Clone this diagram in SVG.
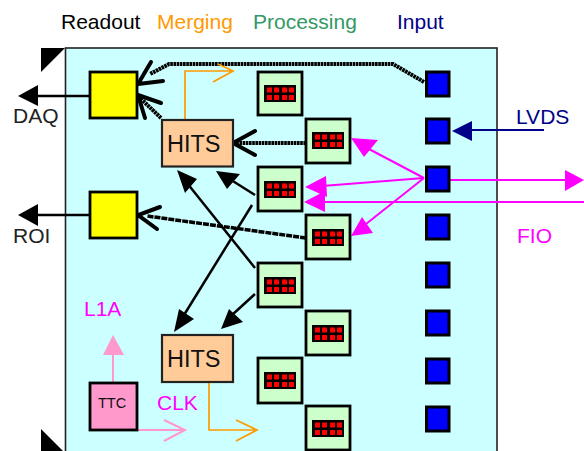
<svg xmlns="http://www.w3.org/2000/svg" width="584" height="451" viewBox="0 0 584 451">
<defs>
<style>
text{font-family:"Liberation Sans",Arial,sans-serif}
.h{font-size:21px}
.lbl{font-size:21px}
.y{fill:#ff0;stroke:#000;stroke-width:2.800}
.b{fill:#00f;stroke:#000;stroke-width:3}
.hits{fill:#fc9;stroke:#222;stroke-width:2.200}
.g{fill:#cfc;stroke:#000;stroke-width:2.800}
.k{fill:none;stroke:#000;stroke-width:1.800}
.kt{fill:none;stroke:#000;stroke-width:2.500}
.m{fill:none;stroke:#f0f;stroke-width:2}
.o{fill:none;stroke:#f90;stroke-width:1.700}
.p{fill:none;stroke:#f9c;stroke-width:2}
.d{fill:none;stroke:#000;stroke-width:4;stroke-dasharray:2.600 0.600}
.open{fill:none;stroke:#000;stroke-width:4;stroke-linecap:round}
</style>
<g id="chip">
<rect x="0" y="0" width="32" height="17" fill="#000"/>
<g fill="#f00"><rect x="3" y="2.500" width="5" height="5"/><rect x="10" y="2.500" width="5" height="5"/><rect x="18" y="2.500" width="5" height="5"/><rect x="25" y="2.500" width="5" height="5"/><rect x="3" y="10" width="5" height="5"/><rect x="10" y="10" width="5" height="5"/><rect x="18" y="10" width="5" height="5"/><rect x="25" y="10" width="5" height="5"/></g>
</g>
</defs>
<rect width="584" height="451" fill="#fff"/>
<rect id="board" x="65.500" y="48" width="431.500" height="410" fill="#cff" stroke="#222" stroke-width="1.600"/>
<path d="M41 48H65L41 72Z" fill="#000"/>
<path d="M41 429L65 453H41Z" fill="#000"/>
<g id="headers">
<text x="61" y="29" class="h" fill="#000">Readout</text>
<text x="157" y="29" class="h" fill="#f90">Merging</text>
<text x="253" y="29" class="h" fill="#396">Processing</text>
<text x="397" y="29" class="h" fill="#008">Input</text>
</g>
<g id="connectors">
<path class="d" d="M424 82L393 64H169L150 74"/>
<path class="open" d="M151 62L138 84L163 81"/>
<path class="d" d="M161 118L138 96"/>
<path class="open" d="M145 118L138 95L161 103"/>
<path class="d" d="M306 143H236"/>
<path class="open" d="M255 131L233 143L255 155"/>
<path class="kt" d="M255 195L228 178"/><path d="M216 171L240 174L227 189Z" fill="#000"/>
<path class="kt" d="M255 268L187 183"/><path d="M177 170L197 179L185 193Z" fill="#000"/>
<path class="kt" d="M252 205L184 315"/><path d="M174 332L179 309L194 319Z" fill="#000"/>
<path class="kt" d="M255 294L232 315"/><path d="M221 329L229 309L243 322Z" fill="#000"/>
<path d="M306 238L147 216" fill="none" stroke="#000" stroke-width="3.500" stroke-dasharray="6 1"/>
<path class="open" d="M160 207L138 215L157 229"/>
<path class="kt" d="M90 96H36"/><path d="M18 96L38 85V106Z" fill="#000"/>
<path class="kt" d="M90 215H36"/><path d="M18 215L38 204V226Z" fill="#000"/>
<path class="m" d="M424 178L367 148"/><path d="M351 138L378 140L364 157Z" fill="#f0f"/>
<path class="m" d="M424 178L322 186"/><path d="M305 187L326 176L327 197Z" fill="#f0f"/>
<path class="m" d="M424 178L366 224"/><path d="M351 236L362 217L373 233Z" fill="#f0f"/>
<path class="m" d="M449 180H566"/><path d="M584 180L565 170V191Z" fill="#f0f"/>
<path class="m" d="M584 202H323"/><path d="M304 202L325 191V212Z" fill="#f0f"/>
<path d="M544 130H470" fill="none" stroke="#008" stroke-width="2"/><path d="M452 131L472 121V141Z" fill="#008"/>
<path class="o" d="M185 119V71H232M218 64L233 71L213 82"/>
<path class="o" d="M209 382V430H257M236 420L257 430L236 441"/>
<path class="p" d="M113 383V350"/><path d="M113 335L103 355H124Z" fill="#f9c"/>
<path class="p" d="M137 430H185M164 420L185 430L164 441"/>
</g>
<g id="readout-daq"><rect class="y" x="90" y="72" width="47" height="46"/></g>
<g id="readout-roi"><rect class="y" x="90" y="192" width="47" height="46"/></g>
<g id="hits-1"><rect class="hits" x="162" y="120" width="71" height="46.500"/><text x="167" y="152" font-size="23.500" fill="#111">HITS</text></g>
<g id="hits-2"><rect class="hits" x="162" y="335" width="71" height="47"/><text x="167" y="367" font-size="23.500" fill="#111">HITS</text></g>
<g id="ttc"><rect x="90" y="383" width="47" height="47" fill="#f9c" stroke="#000" stroke-width="2.800"/><text x="98" y="408" font-size="14.500" fill="#111">TTC</text></g>
<g id="proc-1"><rect class="g" x="258" y="72" width="44" height="43"/><use href="#chip" x="264" y="85"/></g>
<g id="proc-2"><rect class="g" x="306" y="119" width="44" height="44"/><use href="#chip" x="312" y="132"/></g>
<g id="proc-3"><rect class="g" x="258" y="167" width="44" height="44"/><use href="#chip" x="264" y="181"/></g>
<g id="proc-4"><rect class="g" x="306" y="215" width="44" height="44"/><use href="#chip" x="312" y="229"/></g>
<g id="proc-5"><rect class="g" x="258" y="263" width="44" height="44"/><use href="#chip" x="264" y="277"/></g>
<g id="proc-6"><rect class="g" x="306" y="311" width="44" height="44"/><use href="#chip" x="312" y="325"/></g>
<g id="proc-7"><rect class="g" x="258" y="358" width="44" height="45"/><use href="#chip" x="264" y="372"/></g>
<g id="proc-8"><rect class="g" x="306" y="406" width="44" height="44"/><use href="#chip" x="312" y="420"/></g>
<g id="input-1"><rect class="b" x="426.500" y="72" width="22.500" height="24"/></g>
<g id="input-2"><rect class="b" x="426.500" y="119" width="22.500" height="24"/></g>
<g id="input-3"><rect class="b" x="426.500" y="167" width="22.500" height="24"/></g>
<g id="input-4"><rect class="b" x="426.500" y="215" width="22.500" height="24"/></g>
<g id="input-5"><rect class="b" x="426.500" y="263" width="22.500" height="24"/></g>
<g id="input-6"><rect class="b" x="426.500" y="311" width="22.500" height="24"/></g>
<g id="input-7"><rect class="b" x="426.500" y="359" width="22.500" height="24"/></g>
<g id="input-8"><rect class="b" x="426.500" y="407" width="22.500" height="24"/></g>
<g id="labels">
<text x="13" y="123" class="lbl" fill="#222">DAQ</text>
<text x="13" y="243" class="lbl" fill="#222">ROI</text>
<text x="516" y="124" class="lbl" fill="#008">LVDS</text>
<text x="517" y="243" class="lbl" fill="#f0f">FIO</text>
<text x="84" y="316" class="lbl" fill="#f0f">L1A</text>
<text x="157" y="410" class="lbl" fill="#f0f">CLK</text>
</g>
</svg>
